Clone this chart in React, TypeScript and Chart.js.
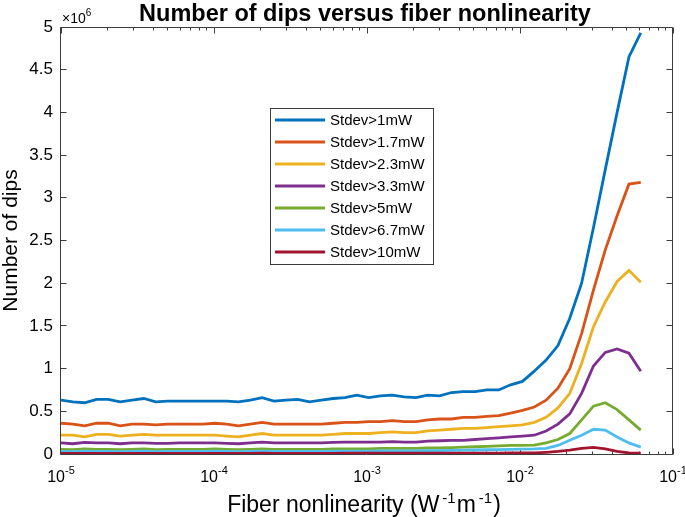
import React, { useEffect, useRef } from "react";
import { Chart, registerables } from "chart.js";

Chart.register(...registerables);

const FONT = '"Liberation Sans", Arial, Helvetica, sans-serif';
const TEXT_COLOR = "#000000";
const AXIS_COLOR = "#3c3c3c";

// Fiber nonlinearity (W^-1 m^-1)
const fiberNonlinearity = [
  1.0e-5, 1.195e-5, 1.428e-5, 1.706e-5, 2.038e-5, 2.436e-5, 2.911e-5, 3.478e-5, 4.156e-5, 4.966e-5,
  5.934e-5, 7.09e-5, 8.472e-5, 1.012e-4, 1.21e-4, 1.445e-4, 1.727e-4, 2.064e-4, 2.466e-4, 2.947e-4,
  3.521e-4, 4.207e-4, 5.027e-4, 6.007e-4, 7.178e-4, 8.577e-4, 1.025e-3, 1.225e-3, 1.463e-3, 1.749e-3,
  2.089e-3, 2.496e-3, 2.983e-3, 3.565e-3, 4.259e-3, 5.089e-3, 6.081e-3, 7.267e-3, 8.683e-3, 1.038e-2,
  1.24e-2, 1.481e-2, 1.77e-2, 2.115e-2, 2.527e-2, 3.02e-2, 3.608e-2, 4.312e-2, 5.152e-2, 6.156e-2,
];

// Number of dips, in units of 10^6
const dips1mW = [
  0.63, 0.61, 0.60, 0.64, 0.64, 0.61, 0.63, 0.65, 0.61, 0.62,
  0.62, 0.62, 0.62, 0.62, 0.62, 0.61, 0.63, 0.66, 0.62, 0.63,
  0.64, 0.61, 0.63, 0.65, 0.66, 0.69, 0.66, 0.68, 0.69, 0.67,
  0.66, 0.69, 0.68, 0.72, 0.73, 0.73, 0.75, 0.75, 0.81, 0.85,
  0.97, 1.10, 1.27, 1.59, 2.00, 2.65, 3.33, 4.00, 4.65, 4.93,
];
const dips1p7mW = [
  0.36, 0.35, 0.33, 0.36, 0.36, 0.33, 0.35, 0.35, 0.34, 0.35,
  0.35, 0.35, 0.35, 0.36, 0.35, 0.33, 0.35, 0.37, 0.35, 0.35,
  0.35, 0.35, 0.35, 0.36, 0.37, 0.37, 0.38, 0.38, 0.39, 0.38,
  0.38, 0.40, 0.41, 0.41, 0.43, 0.43, 0.44, 0.45, 0.48, 0.51,
  0.55, 0.63, 0.77, 1.00, 1.41, 1.92, 2.39, 2.79, 3.16, 3.18,
];
const dips2p3mW = [
  0.22, 0.22, 0.20, 0.23, 0.23, 0.21, 0.22, 0.23, 0.22, 0.22,
  0.22, 0.22, 0.22, 0.22, 0.21, 0.20, 0.22, 0.24, 0.22, 0.22,
  0.22, 0.22, 0.22, 0.23, 0.24, 0.24, 0.24, 0.25, 0.26, 0.25,
  0.25, 0.27, 0.28, 0.29, 0.30, 0.30, 0.31, 0.32, 0.33, 0.34,
  0.37, 0.43, 0.54, 0.71, 1.06, 1.49, 1.78, 2.02, 2.15, 2.01,
];
const dips3p3mW = [
  0.13, 0.12, 0.135, 0.13, 0.13, 0.12, 0.13, 0.13, 0.125, 0.125,
  0.13, 0.13, 0.13, 0.13, 0.125, 0.12, 0.13, 0.14, 0.13, 0.13,
  0.13, 0.13, 0.13, 0.135, 0.14, 0.14, 0.14, 0.14, 0.145, 0.14,
  0.14, 0.15, 0.155, 0.16, 0.16, 0.17, 0.18, 0.19, 0.20, 0.21,
  0.22, 0.27, 0.35, 0.47, 0.71, 1.03, 1.19, 1.23, 1.18, 0.97,
];
const dips5mW = [
  0.055, 0.05, 0.06, 0.055, 0.055, 0.05, 0.055, 0.06, 0.05, 0.055,
  0.055, 0.055, 0.055, 0.06, 0.055, 0.05, 0.055, 0.06, 0.055, 0.055,
  0.055, 0.055, 0.055, 0.06, 0.06, 0.06, 0.06, 0.065, 0.065, 0.065,
  0.065, 0.07, 0.07, 0.075, 0.08, 0.085, 0.09, 0.095, 0.10, 0.10,
  0.105, 0.13, 0.17, 0.24, 0.40, 0.56, 0.60, 0.52, 0.40, 0.28,
];
const dips6p7mW = [
  0.03, 0.028, 0.032, 0.03, 0.03, 0.028, 0.03, 0.032, 0.028, 0.03,
  0.03, 0.03, 0.03, 0.032, 0.03, 0.028, 0.03, 0.033, 0.03, 0.03,
  0.03, 0.03, 0.03, 0.032, 0.033, 0.033, 0.034, 0.035, 0.036, 0.036,
  0.037, 0.04, 0.04, 0.042, 0.045, 0.047, 0.05, 0.052, 0.055, 0.057,
  0.06, 0.067, 0.10, 0.16, 0.22, 0.29, 0.28, 0.20, 0.13, 0.08,
];
const dips10mW = [
  0.008, 0.007, 0.008, 0.008, 0.008, 0.007, 0.008, 0.008, 0.007, 0.008,
  0.008, 0.008, 0.008, 0.008, 0.008, 0.007, 0.008, 0.009, 0.008, 0.008,
  0.008, 0.008, 0.008, 0.008, 0.009, 0.009, 0.009, 0.009, 0.009, 0.009,
  0.009, 0.01, 0.01, 0.01, 0.01, 0.01, 0.011, 0.011, 0.012, 0.012,
  0.013, 0.02, 0.03, 0.045, 0.065, 0.078, 0.06, 0.03, 0.012, 0.01,
];

const seriesLabels = [
  "Stdev>1mW", "Stdev>1.7mW", "Stdev>2.3mW", "Stdev>3.3mW", "Stdev>5mW", "Stdev>6.7mW", "Stdev>10mW",
];
const seriesColors = ["#0072BD", "#D95319", "#EDB120", "#7E2F8E", "#77AC30", "#4DBEEE", "#A2142F"];
const seriesValues = [dips1mW, dips1p7mW, dips2p3mW, dips3p3mW, dips5mW, dips6p7mW, dips10mW];

const xTickValues = [1e-5, 1e-4, 1e-3, 1e-2, 1e-1];
const xTickExponents = ["-5", "-4", "-3", "-2", "-1"];
const xMinorDecades = [1e-5, 1e-4, 1e-3, 1e-2];
const xMinorMultipliers = [2, 3, 4, 5, 6, 7, 8, 9];
const yTickValues = [0, 0.5, 1, 1.5, 2, 2.5, 3, 3.5, 4, 4.5, 5];
const yTickLabels = ["0", "0.5", "1", "1.5", "2", "2.5", "3", "3.5", "4", "4.5", "5"];

const titleText = "Number of dips versus fiber nonlinearity";
const yTitleText = "Number of dips";

const px = (v: number) => Math.floor(v) + 0.5;

const axesPlugin = {
  id: "matlabAxes",
  beforeDatasetsDraw(chart: any) {
    const { ctx, chartArea: a, scales } = chart;
    const xs = scales.x;
    const ys = scales.y;
    const L = px(a.left - 0.5);
    const R = px(a.right - 0.5);
    const T = px(a.top);
    const B = px(a.bottom);
    ctx.save();
    ctx.strokeStyle = AXIS_COLOR;
    ctx.lineWidth = 1;
    ctx.beginPath();
    ctx.rect(L, T, R - L, B - T);
    xTickValues.forEach((v) => {
      const p = px(xs.getPixelForValue(v));
      ctx.moveTo(p, B);
      ctx.lineTo(p, B - 6);
      ctx.moveTo(p, T);
      ctx.lineTo(p, T + 6);
    });
    xMinorDecades.forEach((d) => {
      xMinorMultipliers.forEach((m) => {
        const p = px(xs.getPixelForValue(d * m));
        ctx.moveTo(p, B);
        ctx.lineTo(p, B - 3);
        ctx.moveTo(p, T);
        ctx.lineTo(p, T + 3);
      });
    });
    yTickValues.forEach((v) => {
      const p = px(ys.getPixelForValue(v));
      ctx.moveTo(L, p);
      ctx.lineTo(L + 6, p);
      ctx.moveTo(R, p);
      ctx.lineTo(R - 6, p);
    });
    ctx.stroke();
    ctx.restore();
  },
  afterDraw(chart: any) {
    const { ctx, chartArea: a, scales } = chart;
    const xs = scales.x;
    ctx.save();
    ctx.fillStyle = TEXT_COLOR;
    ctx.textBaseline = "alphabetic";

    // title
    ctx.font = `bold 23.5px ${FONT}`;
    ctx.textAlign = "center";
    ctx.fillText(titleText, (a.left + a.right) / 2 - 2, 21);

    // x10^6 exponent label
    ctx.textAlign = "left";
    ctx.font = `14px ${FONT}`;
    ctx.fillText("\u00d710", a.left + 1, 23);
    const wx = ctx.measureText("\u00d710").width;
    ctx.font = `10px ${FONT}`;
    ctx.fillText("6", a.left + 1 + wx, 16);

    // x tick labels
    xTickValues.forEach((v, i) => {
      const p = xs.getPixelForValue(v);
      ctx.font = `16px ${FONT}`;
      const w1 = ctx.measureText("10").width;
      ctx.font = `11px ${FONT}`;
      const w2 = ctx.measureText(xTickExponents[i]).width;
      const start = p - (w1 + w2) / 2;
      ctx.font = `16px ${FONT}`;
      ctx.fillText("10", start, 482);
      ctx.font = `11px ${FONT}`;
      ctx.fillText(xTickExponents[i], start + w1, 474);
    });

    // x axis title with superscripts
    const parts: [string, boolean][] = [
      ["Fiber nonlinearity (W", false],
      ["-1", true],
      ["m", false],
      ["-1", true],
      [")", false],
    ];
    const bigF = `23px ${FONT}`;
    const supF = `15px ${FONT}`;
    let total = 0;
    const widths = parts.map(([t, sup]) => {
      ctx.font = sup ? supF : bigF;
      const w = ctx.measureText(t).width + (sup ? 4 : 0);
      total += w;
      return w;
    });
    let cx = 364 - total / 2;
    parts.forEach(([t, sup], i) => {
      ctx.font = sup ? supF : bigF;
      ctx.fillText(t, cx + (sup ? 3 : 0), sup ? 503 : 512);
      cx += widths[i];
    });

    // y axis title
    ctx.save();
    ctx.translate(17, (a.top + a.bottom) / 2);
    ctx.rotate(-Math.PI / 2);
    ctx.textAlign = "center";
    ctx.font = `21px ${FONT}`;
    ctx.fillText(yTitleText, 0, 0);
    ctx.restore();

    // legend
    const lx = 270;
    const ly = 108;
    const lw = 163;
    const rowH = 22;
    const firstRow = 120;
    const lh = firstRow - ly + rowH * (seriesLabels.length - 1) + 12;
    ctx.fillStyle = "#ffffff";
    ctx.fillRect(lx, ly, lw, lh);
    ctx.strokeStyle = AXIS_COLOR;
    ctx.lineWidth = 1;
    ctx.strokeRect(lx + 0.5, ly + 0.5, lw, lh);
    ctx.font = `15px ${FONT}`;
    ctx.textBaseline = "middle";
    ctx.textAlign = "left";
    seriesLabels.forEach((label, i) => {
      const y = firstRow + i * rowH;
      ctx.strokeStyle = seriesColors[i];
      ctx.lineWidth = 2.8;
      ctx.beginPath();
      ctx.moveTo(lx + 5, y);
      ctx.lineTo(lx + 55, y);
      ctx.stroke();
      ctx.fillStyle = TEXT_COLOR;
      ctx.fillText(label, lx + 60, y + 1);
    });

    ctx.restore();
  },
};

export default function App() {
  const canvasRef = useRef<HTMLCanvasElement | null>(null);

  useEffect(() => {
    document.body.style.margin = "0";
    const canvas = canvasRef.current;
    if (!canvas) return;
    const n = seriesValues.length;
    const chart = new Chart(canvas, {
      type: "line",
      data: {
        datasets: seriesValues.map((vals, i) => ({
          label: seriesLabels[i],
          data: vals.map((v, j) => ({ x: fiberNonlinearity[j], y: v })),
          borderColor: seriesColors[i],
          backgroundColor: seriesColors[i],
          borderWidth: 2.8,
          pointRadius: 0,
          tension: 0,
          fill: false,
          order: n - 1 - i,
        })),
      },
      options: {
        responsive: false,
        animation: false,
        devicePixelRatio: 1,
        layout: { padding: { left: 0, right: 12, top: 27, bottom: 63 } },
        plugins: {
          legend: { display: false },
          title: { display: false },
          tooltip: { enabled: false },
        },
        scales: {
          x: {
            type: "logarithmic",
            min: 1e-5,
            max: 1e-1,
            display: false,
          },
          y: {
            type: "linear",
            min: 0,
            max: 5,
            position: "left",
            grid: { display: false, drawTicks: false },
            border: { display: false },
            afterBuildTicks: (scale: any) => {
              scale.ticks = yTickValues.map((v) => ({ value: v }));
            },
            afterFit: (scale: any) => {
              scale.width = 61;
            },
            ticks: {
              padding: 8,
              color: TEXT_COLOR,
              font: { family: FONT, size: 17 },
              callback: (value: any) => {
                const idx = yTickValues.indexOf(Number(value));
                return idx >= 0 ? yTickLabels[idx] : "";
              },
            },
          },
        },
      },
      plugins: [axesPlugin],
    });
    return () => chart.destroy();
  }, []);

  return (
    <div style={{ position: "fixed", left: 0, top: 0, width: 685, height: 517, background: "#fff" }}>
      <canvas ref={canvasRef} width={685} height={517} style={{ display: "block", width: 685, height: 517 }} />
    </div>
  );
}
